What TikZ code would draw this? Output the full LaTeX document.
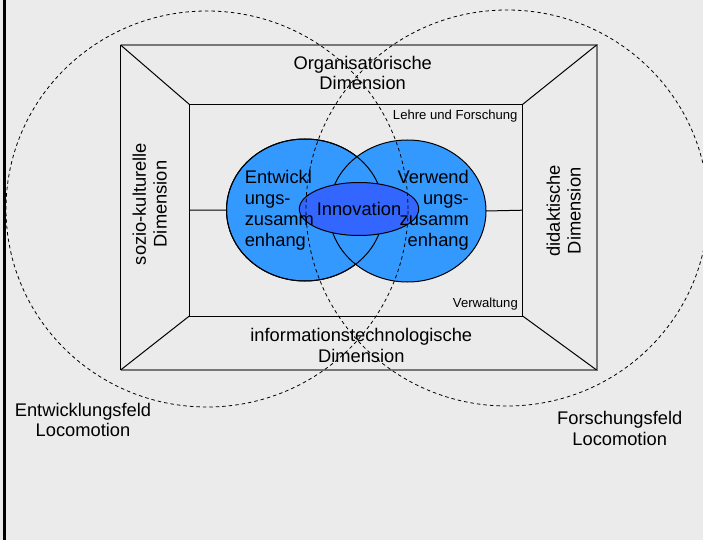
\documentclass[tikz,border=0pt]{standalone}
\usepackage{fontspec}
\setmainfont{Liberation Sans}
\usetikzlibrary{shapes.geometric}

\definecolor{bg}{HTML}{EBEBEB}
\definecolor{boxgray}{HTML}{777777}
\definecolor{fieldblue}{HTML}{3399FF}
\definecolor{innoblue}{HTML}{3366FF}

\tikzstyle{box} = [rectangle,inner sep=0pt,outer sep=0pt]
\tikzstyle{context} = [ellipse,draw,fill=fieldblue,minimum width=157bp,minimum height=142bp,inner sep=0pt,outer sep=0pt]
\tikzstyle{core} = [ellipse,draw,fill=innoblue,minimum width=100bp,minimum height=53bp,inner sep=0pt]
\tikzstyle{field} = [ellipse,draw,line width=0.8bp,dash pattern=on 3.5bp off 3bp,minimum width=402bp,minimum height=396bp,inner sep=0pt]
\tikzstyle{dimtext} = [font=\fontsize{18.3bp}{20.8bp}\selectfont,align=center,inner sep=0pt]
\tikzstyle{small text} = [font=\fontsize{13.1bp}{15bp}\selectfont,inner sep=0pt]

\begin{document}
\begin{tikzpicture}[x=1bp,y=-1bp,line width=1bp]
\fill[bg] (0,0) rectangle (703,540);
\useasboundingbox (0,0) rectangle (703,540);
\draw[line width=2.5bp] (4.5,0) -- (4.5,540);

% frame
\node[box,minimum width=476bp,minimum height=325bp] (outer) at (358.6,207.5) {};
\node[box,draw,minimum width=333.4bp,minimum height=211.7bp] (inner) at (356,210.2) {};
\draw[boxgray,line width=2bp] (outer.north west) -- (outer.north east)
  -- (outer.south east) -- (outer.south west);
\draw (outer.north west) -- (outer.south west);
\foreach \corner in {north west,north east,south west,south east}{
  \draw (outer.\corner) -- (inner.\corner);
}

% contexts
\node[context] (entw) at (305,210) {};
\node[context] (verw) at (407.5,211) {};
\draw (entw.center) ellipse [x radius=78.5, y radius=71];
\draw (inner.west) -- (entw.west);
\draw (verw.east) -- (inner.east);
\node[core,font=\fontsize{18.3bp}{20.8bp}\selectfont] (inno) at (359,209) {Innovation};
\node[dimtext,align=left,anchor=west] (entwtext) at (244.3,210.3) {Entwickl\\ungs-\\zusamm\\enhang};
\node[dimtext,align=right,anchor=east] (verwtext) at (469.3,210.3) {Verwend\\ungs-\\zusamm\\enhang};

% dimensions
\node[dimtext] (org) at (362.7,73) {Organisatorische\\Dimension};
\node[dimtext] (info) at (361.3,345.3) {informationstechnologische\\Dimension};
\node[dimtext,rotate=90] (sozio) at (149.7,204) {sozio-kulturelle\\Dimension};
\node[dimtext,rotate=90] (didakt) at (563.7,210.8) {didaktische\\Dimension};
\node[small text,anchor=east] (lehre) at (518,116) {Lehre und Forschung};
\node[small text,anchor=east] (verwaltung) at (518.3,304) {Verwaltung};

% fields
\node[field] (entwfeld) at (207,209) {};
\node[field] (forschfeld) at (507,208) {};
\node[dimtext] (entwlbl) at (83,420) {Entwicklungsfeld\\Locomotion};
\node[dimtext] (forschlbl) at (619.7,428.3) {Forschungsfeld\\Locomotion};
\end{tikzpicture}
\end{document}
